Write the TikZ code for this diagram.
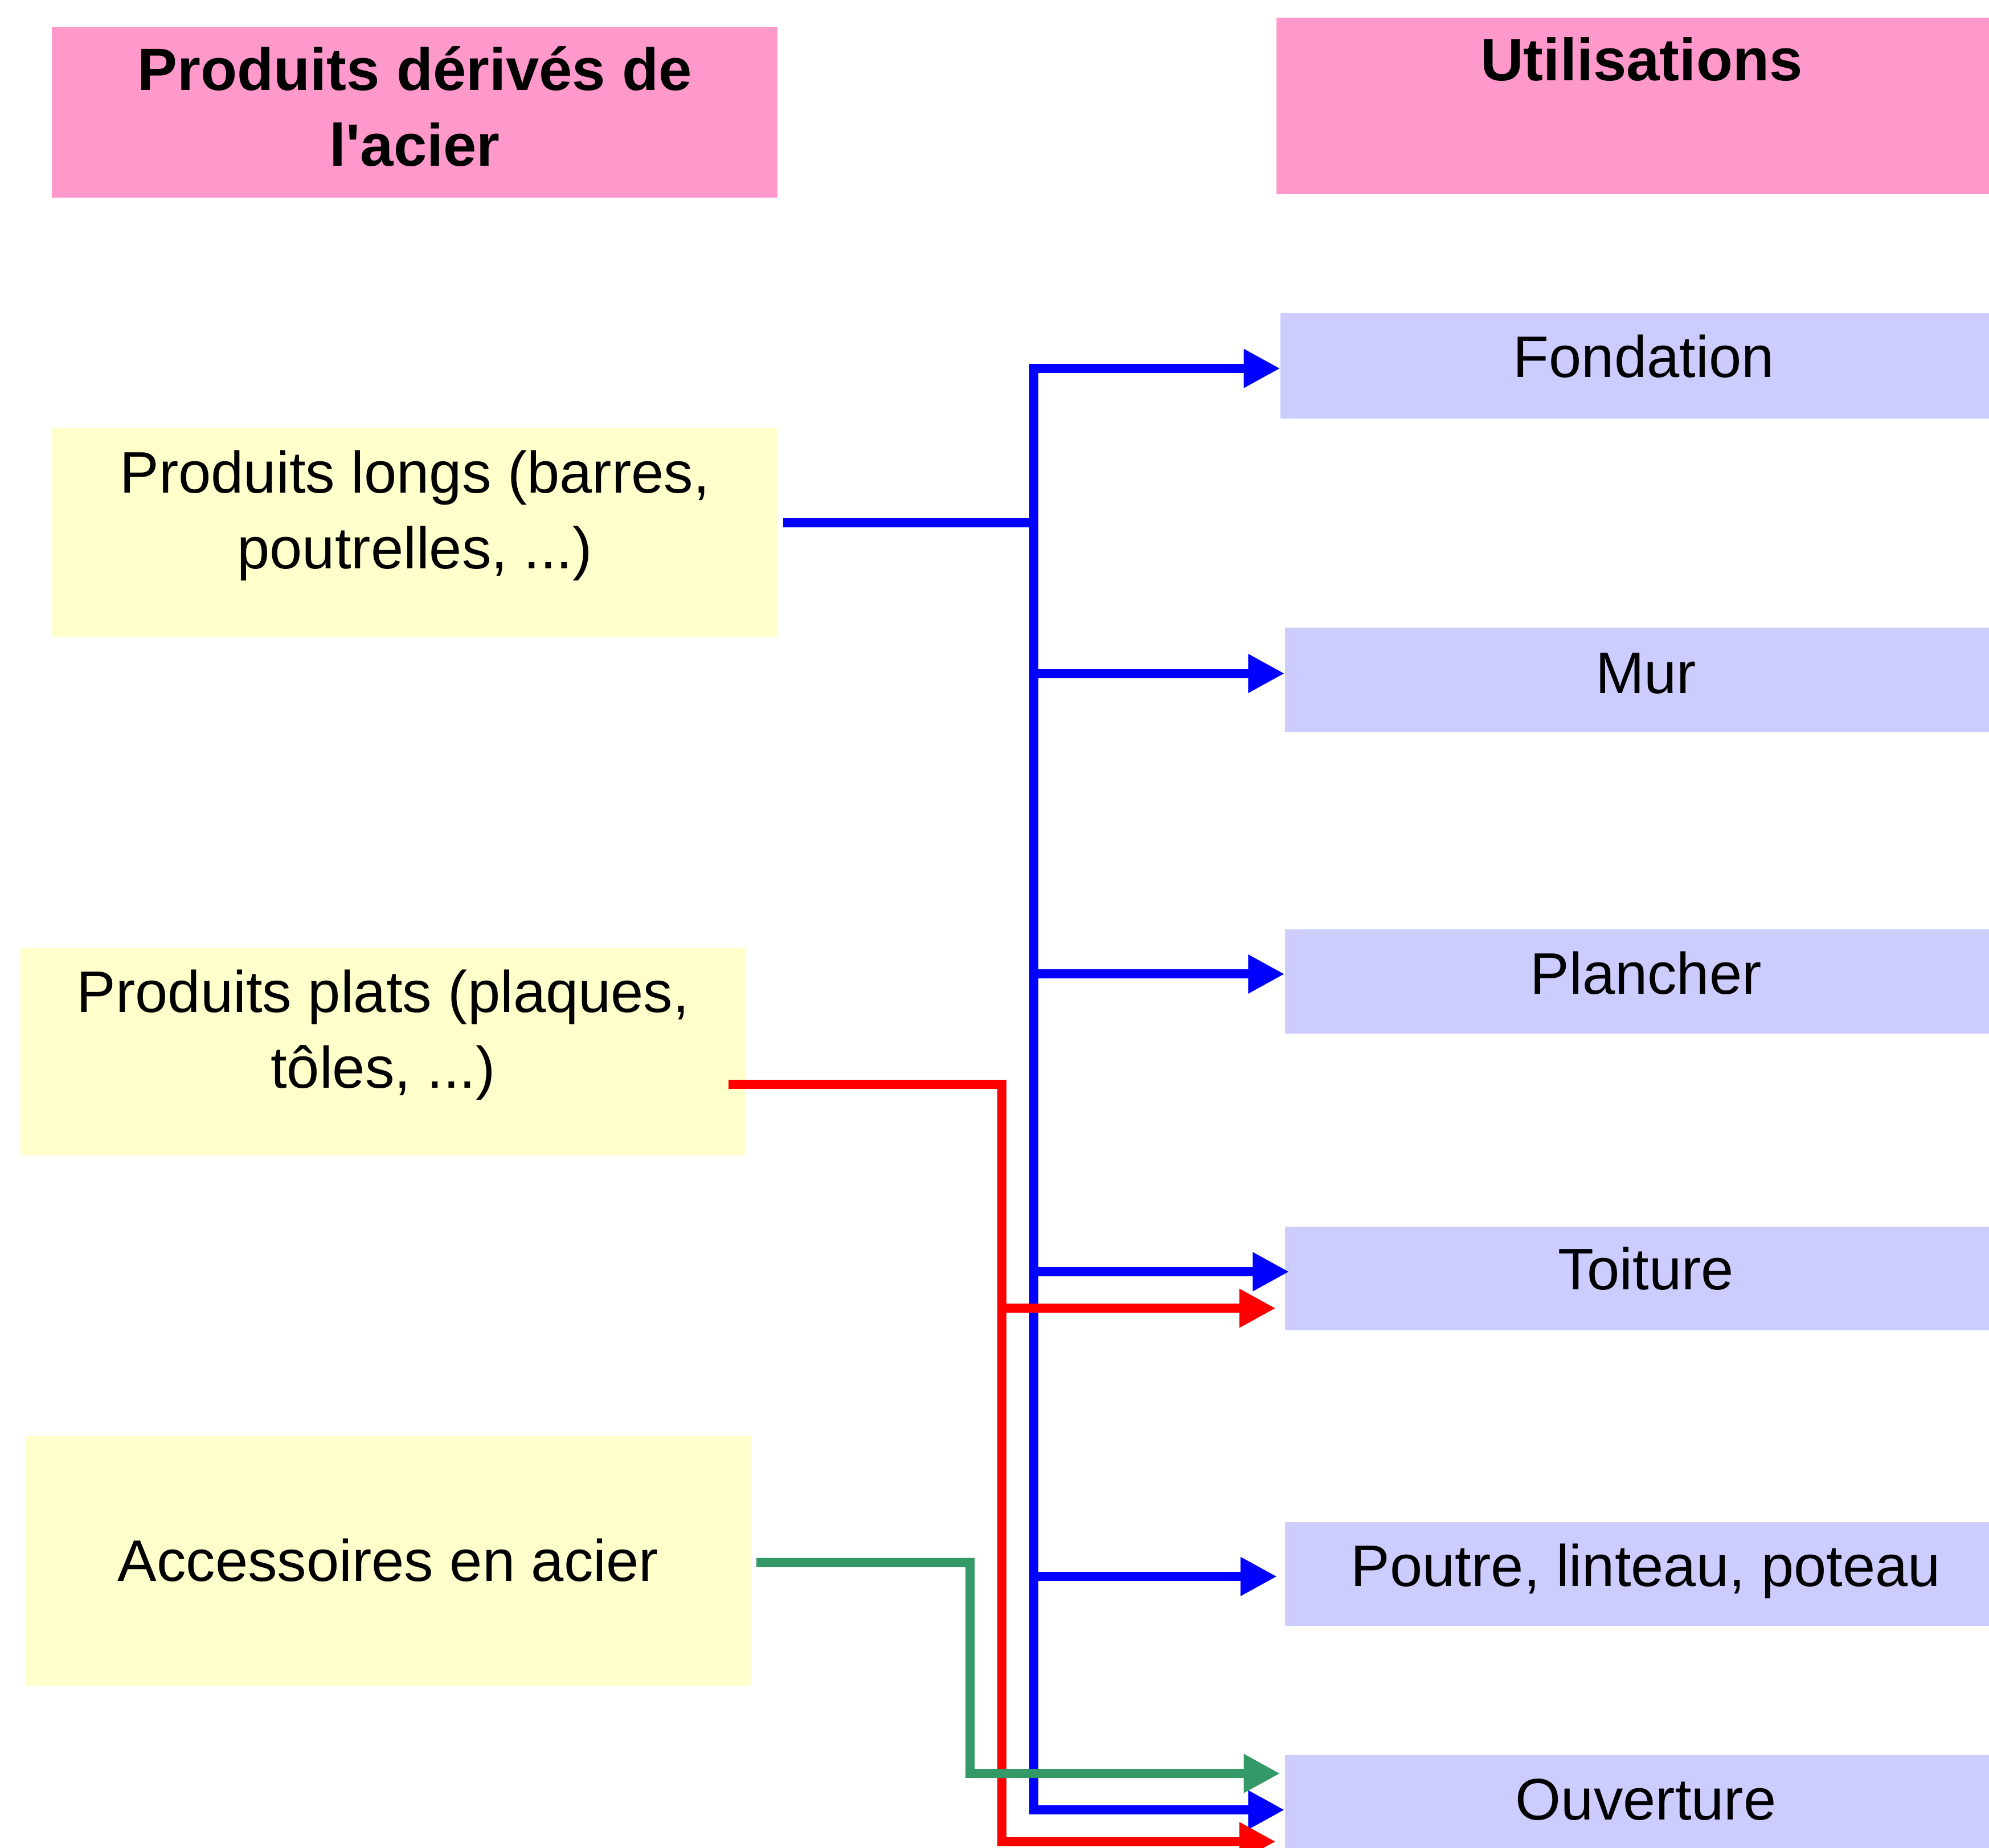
\documentclass[tikz,border=0pt]{standalone}
\usepackage{fontspec}
\setmainfont{Liberation Sans}
\usetikzlibrary{arrows.meta,calc}
\definecolor{hpink}{HTML}{FF99CC}
\definecolor{pyellow}{HTML}{FFFFCC}
\definecolor{ulav}{HTML}{CCCCFF}
\definecolor{cgreen}{HTML}{339966}
\definecolor{cblue}{HTML}{0000FF}
\definecolor{cred}{HTML}{FF0000}
\begin{document}
\begin{tikzpicture}[x=0.02cm, y=-0.02cm,
  txt/.style={font=\fontsize{26.3}{34}\selectfont, align=center, inner sep=0pt},
  btxt/.style={font=\fontsize{26.8}{34}\selectfont\bfseries, align=center, inner sep=0pt},
  one/.style={text height=19pt, text depth=0pt},
  hbox/.style={fill=hpink, inner sep=0pt},
  pbox/.style={fill=pyellow, inner sep=0pt, minimum width=11.44cm},
  ubox/.style={fill=ulav, inner sep=0pt, minimum width=11.38cm, minimum height=1.64cm},
  conn/.style={line width=0.144cm, line cap=rect, line join=miter},
  arr/.style={conn, -{Triangle[length=0.575cm,width=0.575cm]}}
]
\useasboundingbox (0,0) rectangle (1568,1457);
\clip (0,0) rectangle (1568,1457);
\fill[white] (0,0) rectangle (1568,1457);

% headers
\node (hdrL) [hbox, minimum width=11.44cm, minimum height=2.7cm,
  label={[btxt, yshift=0.09cm]center:{Produits dérivés de\\l\textquotesingle acier}}] at (327,88.5) {};
\node (hdrR) [hbox, minimum width=11.52cm, minimum height=2.78cm,
  label={[btxt, one, yshift=0.73cm]center:Utilisations}] at (1294,83.5) {};

% products
\node (longs) [pbox, minimum height=3.3cm,
  label={[txt, yshift=0.26cm]center:{Produits longs (barres,\\poutrelles, ...)}}] at (327,419.5) {};
\node (plats) [pbox, minimum height=3.28cm,
  label={[txt, yshift=0.26cm]center:{Produits plats (plaques,\\tôles, ...)}}] at (302,829) {};
\node (acc) [pbox, minimum height=3.94cm,
  label={[txt, one, yshift=0.01cm]center:Accessoires en acier}] at (306,1230.5) {};

% uses
\node (fond) [ubox, minimum width=11.45cm, minimum height=1.66cm,
  label={[txt, one, yshift=0.15cm]center:Fondation}] at (1295.75,288.5) {};
\node (mur) [ubox, label={[txt, one, yshift=0.12cm]center:Mur}] at (1297.5,536) {};
\node (planch) [ubox, label={[txt, one, yshift=0.14cm]center:Plancher}] at (1297.5,774) {};
\node (toit) [ubox, label={[txt, one, yshift=0.16cm]center:Toiture}] at (1297.5,1008) {};
\node (poutre) [ubox, label={[txt, one, yshift=0.14cm]center:{Poutre, linteau, poteau}}] at (1297.5,1241) {};
\node (ouv) [ubox, label={[txt, one, yshift=0.14cm]center:Ouverture}] at (1297.5,1425) {};

% bus coordinates
\coordinate (bT) at (815,290.5);
\coordinate (bL) at (815,412);
\coordinate (bMur) at (815,531);
\coordinate (bPl) at (815,768);
\coordinate (bTo) at (815,1002.7);
\coordinate (bPo) at (815,1243);
\coordinate (bB) at (815,1427);
\coordinate (rT) at (790,855);
\coordinate (rTo) at (790,1031.5);
\coordinate (rB) at (790,1452);
\coordinate (gT) at (764.7,1232);
\coordinate (gB) at (764.7,1398.3);

% blue: produits longs
\draw[conn, cblue] ($(longs.east)+(7.6,-7.5)$) -- (bL);
\draw[arr, cblue] (bT) -- (bB) -- ($(ouv.west)+(0,2)$);
\draw[arr, cblue] (bT) -- ($(fond.west)+(0,2)$);
\draw[arr, cblue] (bMur) -- ($(mur.west)+(0,-5)$);
\draw[arr, cblue] (bPl) -- ($(planch.west)+(0,-6)$);
\draw[arr, cblue] (bTo) -- ($(toit.west)+(3.6,-5.3)$);
\draw[arr, cblue] (bPo) -- ($(poutre.west)+(-6,2)$);

% red: produits plats
\draw[arr, cred] ($(plats.east)+(-10.4,26)$) -- (rT) -- (rB) -- ($(ouv.west)+(-7,27)$);
\draw[arr, cred] (rTo) -- ($(toit.west)+(-7,23.5)$);

% green: accessoires
\draw[arr, cgreen] ($(acc.east)+(7.6,1.5)$) -- (gT) -- (gB) -- ($(ouv.west)+(-3.5,-26.7)$);
\end{tikzpicture}
\end{document}
